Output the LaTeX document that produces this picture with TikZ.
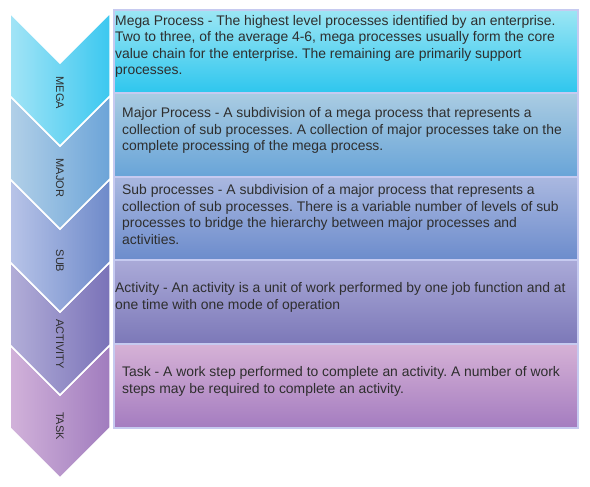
\documentclass[tikz,border=0pt]{standalone}
\usepackage{fontspec}
\setmainfont{Liberation Sans}
\frenchspacing

\definecolor{megaL}{HTML}{A2E4F6}
\definecolor{megaR}{HTML}{3CC8F0}
\definecolor{majorL}{HTML}{B2D0E8}
\definecolor{majorR}{HTML}{6CA4D8}
\definecolor{subL}{HTML}{B8C4E8}
\definecolor{subR}{HTML}{6E8ACA}
\definecolor{actL}{HTML}{B2AED8}
\definecolor{actR}{HTML}{7A72B8}
\definecolor{taskL}{HTML}{D2B2DA}
\definecolor{taskR}{HTML}{A07CBE}

\definecolor{megaT}{HTML}{9CE6F4}
\definecolor{megaB}{HTML}{2EC6EE}
\definecolor{majorT}{HTML}{AACCE2}
\definecolor{majorB}{HTML}{68A4D8}
\definecolor{subT}{HTML}{AAB8E0}
\definecolor{subB}{HTML}{6C8CCC}
\definecolor{actT}{HTML}{AAAAD8}
\definecolor{actB}{HTML}{7C78B8}
\definecolor{taskT}{HTML}{D6B2D6}
\definecolor{taskB}{HTML}{A47CC0}

\definecolor{boxline}{HTML}{C6CAF0}
\definecolor{inktext}{HTML}{2E2E2E}

\begin{document}
\begin{tikzpicture}[x=1pt,y=-1pt,
  chev/.style={draw=white,line width=1.5pt},
  band/.style={draw=boxline,line width=1.6pt},
  lbl/.style={rotate=-90,inner sep=0pt,text=inktext,font=\fontsize{11}{13}\selectfont},
  desc/.style={anchor=north west,align=left,inner sep=0pt,text=inktext,font=\fontsize{13.9}{16.5}\selectfont}]

\useasboundingbox (0,0) rectangle (590,487);

% chevrons, bottom one first
\shade[chev,left color=taskL,right color=taskR]
  (10,345)--(60,395)--(110,345)--(110,428)--(60,478)--(10,428)--cycle;
\shade[chev,left color=actL,right color=actR]
  (10,262)--(60,312)--(110,262)--(110,345)--(60,395)--(10,345)--cycle;
\shade[chev,left color=subL,right color=subR]
  (10,179)--(60,229)--(110,179)--(110,262)--(60,312)--(10,262)--cycle;
\shade[chev,left color=majorL,right color=majorR]
  (10,96)--(60,146)--(110,96)--(110,179)--(60,229)--(10,179)--cycle;
\shade[chev,left color=megaL,right color=megaR]
  (10,13)--(60,63)--(110,13)--(110,96)--(60,146)--(10,96)--cycle;

% labels in the chevrons
\node[lbl] (mega) at (60,93) {MEGA};
\node[lbl] (major) at (60,178) {MAJOR};
\node[lbl] (sub) at (60,261) {SUB};
\node[lbl] (activity) at (60,344) {ACTIVITY};
\node[lbl] (task) at (60,426) {TASK};

% bands
\shade[band,top color=megaT,bottom color=megaB] (114,10) rectangle (578,93);
\shade[band,top color=majorT,bottom color=majorB] (114,93) rectangle (578,177);
\shade[band,top color=subT,bottom color=subB] (114,177) rectangle (578,260);
\shade[band,top color=actT,bottom color=actB] (114,260) rectangle (578,344);
\shade[band,top color=taskT,bottom color=taskB] (114,344) rectangle (578,428);

% texts
\node[desc] (megatext) at (115,15)
  {Mega Process - The highest level processes identified by an enterprise.\\
   Two to three, of the average 4-6, mega processes usually form the core\\
   value chain for the enterprise. The remaining are primarily support\\
   processes.};
\node[desc] (majortext) at (122,107.5)
  {Major Process - A subdivision of a mega process that represents a\\
   collection of sub processes. A collection of major processes take on the\\
   complete processing of the mega process.};
\node[desc] (subtext) at (122,184.5)
  {Sub processes - A subdivision of a major process that represents a\\
   collection of sub processes. There is a variable number of levels of sub\\
   processes to bridge the hierarchy between major processes and\\
   activities.};
\node[desc] (acttext) at (115,282.5)
  {Activity - An activity is a unit of work performed by one job function and at\\
   one time with one mode of operation};
\node[desc] (tasktext) at (122,366.5)
  {Task - A work step performed to complete an activity. A number of work\\
   steps may be required to complete an activity.};

\end{tikzpicture}
\end{document}
